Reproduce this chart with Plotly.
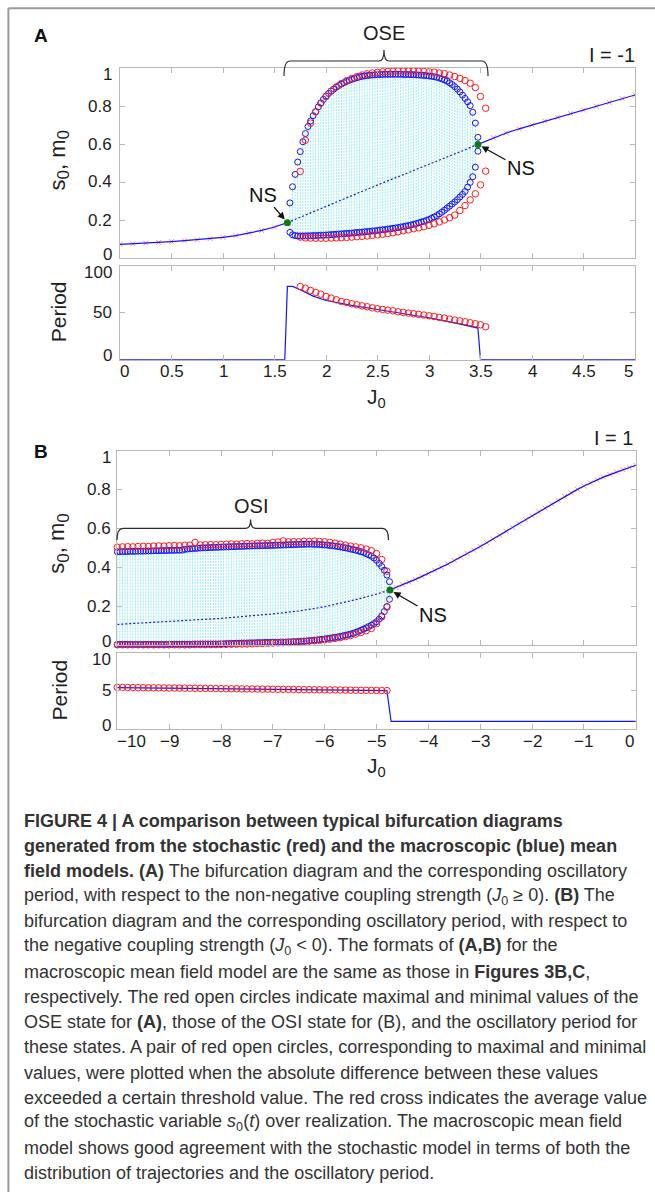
import plotly.graph_objects as go

# ---------------- data ----------------
# Panel A (I = -1): macroscopic model, oscillation envelope (max / min of s0)
A_OSC_J0 = [1.65, 1.675, 1.70, 1.725, 1.75, 1.775, 1.80, 1.825, 1.85, 1.875,
            1.90, 1.925, 1.95, 1.975, 2.00, 2.025, 2.05, 2.075, 2.10, 2.125,
            2.15, 2.175, 2.20, 2.225, 2.25, 2.275, 2.30, 2.325, 2.35, 2.375,
            2.40, 2.425, 2.45, 2.475, 2.50, 2.525, 2.55, 2.575, 2.60, 2.625,
            2.65, 2.675, 2.70, 2.725, 2.75, 2.775, 2.80, 2.825, 2.85, 2.875,
            2.90, 2.925, 2.95, 2.975, 3.00, 3.025, 3.05, 3.075, 3.10, 3.125,
            3.15, 3.175, 3.20, 3.225, 3.25, 3.275, 3.30, 3.325, 3.35, 3.375,
            3.40, 3.425, 3.45, 3.475]
A_BLUE_MAX = [0.290, 0.375, 0.440, 0.505, 0.560, 0.612, 0.655, 0.692, 0.721, 0.749,
              0.770, 0.795, 0.816, 0.835, 0.852, 0.866, 0.879, 0.889, 0.899, 0.908,
              0.916, 0.923, 0.929, 0.935, 0.940, 0.945, 0.949, 0.953, 0.956, 0.958,
              0.960, 0.962, 0.963, 0.964, 0.965, 0.966, 0.966, 0.967, 0.967, 0.967,
              0.967, 0.967, 0.967, 0.967, 0.966, 0.966, 0.966, 0.965, 0.965, 0.964,
              0.963, 0.962, 0.961, 0.960, 0.958, 0.956, 0.954, 0.951, 0.947, 0.943,
              0.937, 0.931, 0.922, 0.913, 0.902, 0.889, 0.874, 0.857, 0.840, 0.822,
              0.802, 0.767, 0.710, 0.635]
A_BLUE_MIN = [0.135, 0.122, 0.118, 0.116, 0.116, 0.116, 0.116, 0.117, 0.117, 0.118,
              0.118, 0.119, 0.120, 0.120, 0.121, 0.122, 0.123, 0.124, 0.125, 0.126,
              0.127, 0.128, 0.129, 0.130, 0.131, 0.133, 0.134, 0.135, 0.136, 0.138,
              0.139, 0.140, 0.142, 0.143, 0.145, 0.147, 0.148, 0.150, 0.152, 0.154,
              0.156, 0.158, 0.160, 0.163, 0.165, 0.168, 0.171, 0.174, 0.177, 0.181,
              0.185, 0.189, 0.193, 0.198, 0.203, 0.209, 0.216, 0.223, 0.232, 0.241,
              0.251, 0.262, 0.273, 0.284, 0.295, 0.307, 0.321, 0.335, 0.350, 0.373,
              0.398, 0.428, 0.478, 0.562]

# Panel A: stochastic model extrema
A_RED_J0 = [1.75, 1.80, 1.85, 1.90, 1.95, 2.00, 2.05, 2.10, 2.15, 2.20,
            2.25, 2.30, 2.35, 2.40, 2.45, 2.50, 2.55, 2.60, 2.65, 2.70,
            2.75, 2.80, 2.85, 2.90, 2.95, 3.00, 3.05, 3.10, 3.15, 3.20,
            3.25, 3.30, 3.35, 3.40, 3.45, 3.50, 3.55]
A_RED_MAX = [0.456, 0.620, 0.710, 0.770, 0.815, 0.850, 0.878, 0.900, 0.918, 0.933,
             0.945, 0.955, 0.963, 0.969, 0.974, 0.977, 0.980, 0.982, 0.983, 0.984,
             0.984, 0.984, 0.984, 0.983, 0.982, 0.980, 0.978, 0.974, 0.970, 0.963,
             0.955, 0.945, 0.934, 0.920, 0.897, 0.850, 0.788]
A_RED_MIN = [0.110, 0.106, 0.105, 0.104, 0.104, 0.104, 0.105, 0.106, 0.107, 0.108,
             0.110, 0.112, 0.114, 0.116, 0.119, 0.122, 0.125, 0.129, 0.133, 0.138,
             0.143, 0.148, 0.154, 0.159, 0.165, 0.172, 0.180, 0.190, 0.200, 0.212,
             0.226, 0.250, 0.276, 0.306, 0.338, 0.385, 0.457]
A_RED_PERIOD = [77.7, 75.9, 73.5, 71.4, 69.6, 67.1, 65.4, 63.6, 61.8, 60.8,
                59.4, 58.3, 57.2, 56.2, 55.1, 54.1, 53.4, 52.6, 51.9, 50.9,
                50.2, 49.5, 48.8, 48.1, 47.4, 46.6, 45.9, 44.9, 44.2, 43.1,
                42.1, 41.3, 40.3, 39.2, 38.2, 37.1, 35.0]

# Panel A: fixed point branches
A_STAB_L_J0 = [0.0, 0.125, 0.25, 0.375, 0.5, 0.625, 0.75, 0.875, 1.0, 1.125, 1.25, 1.375, 1.5, 1.625]
A_STAB_L_S = [0.072, 0.075, 0.078, 0.082, 0.086, 0.091, 0.096, 0.102, 0.109, 0.118, 0.131, 0.145, 0.163, 0.186]
A_STAB_R_J0 = [3.475, 3.625, 3.75, 3.875, 4.0, 4.125, 4.25, 4.375, 4.5, 4.625, 4.75, 4.875, 5.0]
A_STAB_R_S = [0.598, 0.633, 0.658, 0.680, 0.700, 0.720, 0.740, 0.760, 0.779, 0.799, 0.819, 0.839, 0.858]
A_UNST_J0 = [1.625, 1.75, 2.0, 2.25, 2.5, 2.75, 3.0, 3.25, 3.475]
A_UNST_S = [0.186, 0.215, 0.271, 0.328, 0.384, 0.440, 0.494, 0.548, 0.598]
A_NS_J0 = [1.625, 3.475]
A_NS_S = [0.186, 0.598]

# Panel A: macroscopic oscillation period
A_PER_J0 = [0.0, 1.6, 1.625, 1.675, 1.75, 1.875, 2.0, 2.25, 2.5, 2.75, 3.0, 3.25, 3.475, 3.5, 5.0]
A_PER = [0.0, 0.0, 77.8, 77.8, 74.2, 67.5, 62.8, 57.6, 53.3, 49.0, 44.5, 39.0, 33.6, 0.0, 0.0]

# Panel B (I = 1): macroscopic model envelope
B_OSC_J0 = [-10.00, -9.95, -9.90, -9.85, -9.80, -9.75, -9.70, -9.65, -9.60, -9.55,
            -9.50, -9.45, -9.40, -9.35, -9.30, -9.25, -9.20, -9.15, -9.10, -9.05,
            -9.00, -8.95, -8.90, -8.85, -8.80, -8.75, -8.70, -8.65, -8.60, -8.55,
            -8.50, -8.45, -8.40, -8.35, -8.30, -8.25, -8.20, -8.15, -8.10, -8.05,
            -8.00, -7.95, -7.90, -7.85, -7.80, -7.75, -7.70, -7.65, -7.60, -7.55,
            -7.50, -7.45, -7.40, -7.35, -7.30, -7.25, -7.20, -7.15, -7.10, -7.05,
            -7.00, -6.95, -6.90, -6.85, -6.80, -6.75, -6.70, -6.65, -6.60, -6.55,
            -6.50, -6.45, -6.40, -6.35, -6.30, -6.25, -6.20, -6.15, -6.10, -6.05,
            -6.00, -5.95, -5.90, -5.85, -5.80, -5.75, -5.70, -5.65, -5.60, -5.55,
            -5.50, -5.45, -5.40, -5.35, -5.30, -5.25, -5.20, -5.15, -5.10, -5.05,
            -5.00, -4.95, -4.90, -4.85, -4.80, -4.75]
B_BLUE_MAX = [0.480, 0.480, 0.481, 0.481, 0.481, 0.482, 0.482, 0.482, 0.483, 0.483,
              0.483, 0.484, 0.484, 0.484, 0.485, 0.485, 0.485, 0.486, 0.486, 0.486,
              0.487, 0.487, 0.487, 0.488, 0.488, 0.488, 0.492, 0.494, 0.495, 0.496,
              0.497, 0.498, 0.499, 0.500, 0.500, 0.501, 0.502, 0.502, 0.503, 0.503,
              0.504, 0.504, 0.505, 0.505, 0.506, 0.506, 0.507, 0.507, 0.508, 0.508,
              0.509, 0.509, 0.510, 0.510, 0.511, 0.511, 0.511, 0.512, 0.512, 0.512,
              0.513, 0.513, 0.514, 0.514, 0.515, 0.515, 0.516, 0.516, 0.517, 0.517,
              0.518, 0.518, 0.518, 0.519, 0.519, 0.519, 0.518, 0.518, 0.517, 0.516,
              0.515, 0.514, 0.512, 0.511, 0.509, 0.507, 0.505, 0.502, 0.500, 0.497,
              0.494, 0.491, 0.488, 0.484, 0.480, 0.476, 0.470, 0.464, 0.457, 0.448,
              0.436, 0.420, 0.404, 0.385, 0.360, 0.326]
B_BLUE_MIN = [0.003, 0.003, 0.003, 0.003, 0.003, 0.003, 0.003, 0.003, 0.003, 0.003,
              0.003, 0.003, 0.003, 0.003, 0.003, 0.003, 0.003, 0.003, 0.003, 0.003,
              0.004, 0.004, 0.004, 0.004, 0.004, 0.004, 0.004, 0.004, 0.004, 0.004,
              0.005, 0.005, 0.005, 0.005, 0.005, 0.005, 0.005, 0.005, 0.005, 0.005,
              0.006, 0.006, 0.007, 0.007, 0.008, 0.008, 0.009, 0.009, 0.010, 0.010,
              0.010, 0.011, 0.011, 0.011, 0.012, 0.012, 0.012, 0.013, 0.013, 0.013,
              0.014, 0.014, 0.014, 0.015, 0.015, 0.015, 0.016, 0.016, 0.017, 0.017,
              0.018, 0.019, 0.020, 0.021, 0.022, 0.023, 0.025, 0.026, 0.028, 0.029,
              0.031, 0.033, 0.035, 0.037, 0.039, 0.041, 0.044, 0.047, 0.050, 0.053,
              0.056, 0.060, 0.065, 0.070, 0.076, 0.082, 0.088, 0.095, 0.102, 0.110,
              0.120, 0.133, 0.150, 0.172, 0.198, 0.235]

# Panel B: stochastic model extrema and period
B_RED_J0 = [-10.0, -9.9, -9.8, -9.7, -9.6, -9.5, -9.4, -9.3, -9.2, -9.1,
            -9.0, -8.9, -8.8, -8.7, -8.6, -8.5, -8.4, -8.3, -8.2, -8.1,
            -8.0, -7.9, -7.8, -7.7, -7.6, -7.5, -7.4, -7.3, -7.2, -7.1,
            -7.0, -6.9, -6.8, -6.7, -6.6, -6.5, -6.4, -6.3, -6.2, -6.1,
            -6.0, -5.9, -5.8, -5.7, -5.6, -5.5, -5.4, -5.3, -5.2, -5.1,
            -5.0, -4.9, -4.8]
B_RED_MAX = [0.503, 0.505, 0.506, 0.505, 0.507, 0.508, 0.507, 0.509, 0.510, 0.509,
             0.511, 0.512, 0.511, 0.513, 0.514, 0.528, 0.515, 0.516, 0.517, 0.516,
             0.518, 0.519, 0.520, 0.519, 0.521, 0.522, 0.521, 0.523, 0.524, 0.523,
             0.528, 0.530, 0.536, 0.531, 0.532, 0.531, 0.534, 0.533, 0.535, 0.533,
             0.531, 0.528, 0.524, 0.519, 0.514, 0.509, 0.505, 0.500, 0.494, 0.485,
             0.471, 0.440, 0.380]
B_RED_MIN = [0.001, 0.001, 0.001, 0.001, 0.001, 0.001, 0.001, 0.001, 0.001, 0.001,
             0.001, 0.001, 0.001, 0.001, 0.001, 0.002, 0.002, 0.002, 0.002, 0.002,
             0.003, 0.003, 0.004, 0.004, 0.005, 0.005, 0.006, 0.007, 0.008, 0.009,
             0.010, 0.011, 0.012, 0.013, 0.014, 0.016, 0.018, 0.020, 0.022, 0.024,
             0.027, 0.030, 0.034, 0.038, 0.043, 0.049, 0.056, 0.064, 0.073, 0.085,
             0.110, 0.145, 0.195]
B_RED_PERIOD = [5.45, 5.44, 5.44, 5.43, 5.42, 5.41, 5.41, 5.40, 5.39, 5.38,
                5.37, 5.37, 5.36, 5.35, 5.34, 5.33, 5.33, 5.32, 5.31, 5.30,
                5.29, 5.28, 5.28, 5.27, 5.26, 5.25, 5.24, 5.24, 5.23, 5.22,
                5.21, 5.20, 5.20, 5.19, 5.18, 5.17, 5.16, 5.16, 5.15, 5.14,
                5.13, 5.12, 5.12, 5.11, 5.10, 5.09, 5.08, 5.07, 5.07, 5.06,
                5.05, 5.04, 5.03]

# Panel B: fixed point branches
B_STAB_J0 = [-4.75, -4.625, -4.5, -4.375, -4.25, -4.125, -4.0, -3.875, -3.75, -3.625,
             -3.5, -3.375, -3.25, -3.125, -3.0, -2.875, -2.75, -2.625, -2.5, -2.375,
             -2.25, -2.125, -2.0, -1.875, -1.75, -1.625, -1.5, -1.375, -1.25, -1.125,
             -1.0, -0.875, -0.75, -0.625, -0.5, -0.375, -0.25, -0.125, 0.0]
B_STAB_S = [0.283, 0.296, 0.310, 0.324, 0.338, 0.353, 0.368, 0.384, 0.400, 0.417,
            0.435, 0.452, 0.470, 0.488, 0.507, 0.526, 0.545, 0.565, 0.585, 0.605,
            0.625, 0.645, 0.665, 0.685, 0.705, 0.725, 0.745, 0.764, 0.783, 0.801,
            0.818, 0.834, 0.850, 0.864, 0.877, 0.890, 0.903, 0.914, 0.925]
B_UNST_J0 = [-10.0, -9.0, -8.0, -7.0, -6.5, -6.0, -5.5, -5.0, -4.75]
B_UNST_S = [0.106, 0.120, 0.137, 0.160, 0.175, 0.197, 0.227, 0.262, 0.283]
B_NS_J0 = [-4.74]
B_NS_S = [0.283]

B_PER_J0 = [-10.0, -9.0, -8.0, -7.0, -6.0, -5.0, -4.8, -4.72, 0.0]
B_PER = [5.42, 5.35, 5.27, 5.19, 5.11, 5.04, 5.02, 1.0, 1.0]

# tick labels
A_X_TICKS = [0, 0.5, 1, 1.5, 2, 2.5, 3, 3.5, 4, 4.5, 5]
A_X_LABELS = ["0", "0.5", "1", "1.5", "2", "2.5", "3", "3.5", "4", "4.5", "5"]
B_X_TICKS = [-10, -9, -8, -7, -6, -5, -4, -3, -2, -1, 0]
B_X_LABELS = ["\u221210", "\u22129", "\u22128", "\u22127", "\u22126", "\u22125",
              "\u22124", "\u22123", "\u22122", "\u22121", "0"]
S_TICKS = [0, 0.2, 0.4, 0.6, 0.8, 1]
S_LABELS = ["0", "0.2", "0.4", "0.6", "0.8", "1"]
A_P_TICKS = [0, 50, 100]
A_P_LABELS = ["0", "50", "100"]
B_P_TICKS = [0, 5, 10]
B_P_LABELS = ["0", "5", "10"]

CAPTION = [
    "<b>FIGURE 4 | A comparison between typical bifurcation diagrams</b>",
    "<b>generated from the stochastic (red) and the macroscopic (blue) mean</b>",
    "<b>field models. (A)</b> The bifurcation diagram and the corresponding oscillatory",
    "period, with respect to the non-negative coupling strength (<i>J</i><sub>0</sub> \u2265 0). <b>(B)</b> The",
    "bifurcation diagram and the corresponding oscillatory period, with respect to",
    "the negative coupling strength (<i>J</i><sub>0</sub> &lt; 0). The formats of <b>(A,B)</b> for the",
    "macroscopic mean field model are the same as those in <b>Figures 3B,C</b>,",
    "respectively. The red open circles indicate maximal and minimal values of the",
    "OSE state for <b>(A)</b>, those of the OSI state for (B), and the oscillatory period for",
    "these states. A pair of red open circles, corresponding to maximal and minimal",
    "values, were plotted when the absolute difference between these values",
    "exceeded a certain threshold value. The red cross indicates the average value",
    "of the stochastic variable <i>s</i><sub>0</sub>(<i>t</i>) over realization. The macroscopic mean field",
    "model shows good agreement with the stochastic model in terms of both the",
    "distribution of trajectories and the oscillatory period.",
]

# ---------------- layout helpers ----------------
W, H = 655, 1192
FONT = "Liberation Sans, Arial, sans-serif"
BLUE = "#1414ff"
RED = "#ff1a1a"
CYAN = "rgba(40,215,225,0.5)"
GREEN = "#0a7d12"
AXC = "#b8b8b8"


def px(x):
    return x / W


def py(y):
    return 1 - y / H


# subplot boxes in pixels: left, right, top, bottom
BOXES = {
    "": (120.0, 635.0, 68.0, 258.0),
    "2": (120.0, 635.0, 265.5, 359.7),
    "3": (117.3, 635.8, 450.7, 645.0),
    "4": (117.3, 635.8, 652.7, 729.0),
}
RANGES = {
    "": ([0, 5], [0, 1]),
    "2": ([0, 5], [0, 100]),
    "3": ([-10, 0], [0, 1]),
    "4": ([-10, 0], [0, 10]),
}
XTICKS = {"": A_X_TICKS, "2": A_X_TICKS, "3": B_X_TICKS, "4": B_X_TICKS}
YTICKS = {"": S_TICKS, "2": A_P_TICKS, "3": S_TICKS, "4": B_P_TICKS}

fig = go.Figure()
annotations = []
shapes = []

layout_axes = {}
for k, (l, r, t, b) in BOXES.items():
    xr, yr = RANGES[k]
    common = dict(showgrid=False, zeroline=False, showline=True, linecolor=AXC,
                  linewidth=1, mirror="ticks", ticks="inside", ticklen=5,
                  tickcolor=AXC, tickwidth=1, showticklabels=False, fixedrange=True)
    layout_axes["xaxis" + k] = dict(common, domain=[px(l), px(r)], range=xr,
                                    tickvals=XTICKS[k], anchor="y" + k)
    layout_axes["yaxis" + k] = dict(common, domain=[py(b), py(t)], range=yr,
                                    tickvals=YTICKS[k], anchor="x" + k)


def text(x, y, s, size=17, xanchor="center", yanchor="middle", angle=0,
         color="#1e1e1e"):
    annotations.append(dict(x=px(x), y=py(y), xref="paper", yref="paper", text=s,
                            showarrow=False, xanchor=xanchor, yanchor=yanchor,
                            textangle=angle, font=dict(family=FONT, size=size, color=color)))


def x_tick_labels(k, vals, labels, y):
    l, r, _, _ = BOXES[k]
    x0, x1 = RANGES[k][0]
    for i, (v, s) in enumerate(zip(vals, labels)):
        xp = l + (v - x0) / (x1 - x0) * (r - l)
        if i == 0:
            text(l - 2, y, s, xanchor="left")
        elif i == len(vals) - 1:
            text(r, y, s, xanchor="right")
        else:
            text(xp, y, s)


def y_tick_labels(k, vals, labels, xr):
    _, _, t, b = BOXES[k]
    y0, y1 = RANGES[k][1]
    for i, (v, s) in enumerate(zip(vals, labels)):
        yp = b - (v - y0) / (y1 - y0) * (b - t)
        if i == 0:
            yp = b - 4
        elif i == len(vals) - 1:
            yp = t + 7
        text(xr, yp, s, xanchor="right")


def segs(xs, lo, hi):
    xx, yy = [], []
    for x, a, c in zip(xs, lo, hi):
        xx += [x, x, None]
        yy += [a, c, None]
    return xx, yy


def open_circles(color, size):
    return dict(symbol="circle-open", size=size, color=color, line=dict(color=color, width=1))


def add_bifurcation(k, osc_j, bmax, bmin, red_j, rmax, rmin, stab, unst, ns):
    ax = dict(xaxis="x" + k, yaxis="y" + k, showlegend=False, hoverinfo="skip")
    cx, cy = segs(osc_j, bmin, bmax)
    fig.add_trace(go.Scatter(x=cx, y=cy, mode="lines",
                             line=dict(color=CYAN, width=1, dash="2px,1px"), **ax))
    fig.add_trace(go.Scatter(x=unst[0], y=unst[1], mode="lines",
                             line=dict(color=BLUE, width=1.2, dash="2px,2px"), **ax))
    fig.add_trace(go.Scatter(x=osc_j + osc_j, y=bmax + bmin, mode="markers",
                             cliponaxis=False, marker=open_circles(BLUE, 6), **ax))
    fig.add_trace(go.Scatter(x=red_j + red_j, y=rmax + rmin, mode="markers",
                             cliponaxis=False, marker=open_circles(RED, 6.5), **ax))
    for sj, ss in stab:
        fig.add_trace(go.Scatter(x=sj, y=ss, mode="markers",
                                 marker=dict(symbol="x-thin", size=5,
                                             color="rgba(255,70,70,0.6)",
                                             line=dict(color="rgba(255,70,70,0.6)", width=1)),
                                 **ax))
        fig.add_trace(go.Scatter(x=sj, y=ss, mode="lines",
                                 line=dict(color=BLUE, width=1.2), **ax))
    fig.add_trace(go.Scatter(x=ns[0], y=ns[1], mode="markers",
                             marker=dict(symbol="circle", size=7, color=GREEN), **ax))


def add_period(k, j, p, red_j, red_p):
    ax = dict(xaxis="x" + k, yaxis="y" + k, showlegend=False, hoverinfo="skip")
    fig.add_trace(go.Scatter(x=j, y=p, mode="lines",
                             line=dict(color=BLUE, width=1.2), **ax))
    fig.add_trace(go.Scatter(x=red_j, y=red_p, mode="markers", cliponaxis=False,
                             marker=open_circles(RED, 6.5), **ax))


# ---------------- panel A ----------------
add_bifurcation("", A_OSC_J0, A_BLUE_MAX, A_BLUE_MIN, A_RED_J0, A_RED_MAX, A_RED_MIN,
                [(A_STAB_L_J0, A_STAB_L_S), (A_STAB_R_J0, A_STAB_R_S)],
                (A_UNST_J0, A_UNST_S), (A_NS_J0, A_NS_S))
add_period("2", A_PER_J0, A_PER, A_RED_J0, A_RED_PERIOD)

# ---------------- panel B ----------------
add_bifurcation("3", B_OSC_J0, B_BLUE_MAX, B_BLUE_MIN, B_RED_J0, B_RED_MAX, B_RED_MIN,
                [(B_STAB_J0, B_STAB_S)], (B_UNST_J0, B_UNST_S), (B_NS_J0, B_NS_S))
add_period("4", B_PER_J0, B_PER, B_RED_J0, B_RED_PERIOD)

# tick labels
x_tick_labels("2", A_X_TICKS, A_X_LABELS, 371.7)
x_tick_labels("4", B_X_TICKS, B_X_LABELS, 741.7)
y_tick_labels("", S_TICKS, S_LABELS, 113.6)
y_tick_labels("2", A_P_TICKS, A_P_LABELS, 113.6)
y_tick_labels("3", S_TICKS, S_LABELS, 112.5)
y_tick_labels("4", B_P_TICKS, B_P_LABELS, 112.5)

# axis titles
SM_TITLE = ("s<sub><span style='font-size:17px'>0</span></sub>, "
            "m<sub><span style='font-size:17px'>0</span></sub>")
text(58.5, 160, SM_TITLE, size=22, angle=-90)
text(58.5, 311.7, "Period", size=21, angle=-90)
text(58.5, 543.3, SM_TITLE, size=22, angle=-90)
text(58.5, 690, "Period", size=21, angle=-90)
text(376, 398.3, "J<sub>0</sub>", size=21)
text(376, 766.7, "J<sub>0</sub>", size=21)

# panel letters, input labels, state labels
text(40.5, 35, "<b>A</b>", size=19, color="#111")
text(40.5, 451, "<b>B</b>", size=19, color="#111")
text(637, 55, "I = -1", size=20, xanchor="right")
text(635, 438.3, "I = 1", size=20, xanchor="right")
text(384, 33, "OSE", size=20)
text(250.6, 505.7, "OSI", size=20)

# NS arrows
for (xa, ya, j, s, dx, dy) in [("x", "y", A_NS_J0[0], A_NS_S[0], -24, -28),
                               ("x", "y", A_NS_J0[1], A_NS_S[1], 43, 24),
                               ("x3", "y3", B_NS_J0[0], B_NS_S[0], 43, 25)]:
    annotations.append(dict(x=j, y=s, xref=xa, yref=ya, ax=dx, ay=dy, text="NS",
                            showarrow=True, arrowhead=2, arrowsize=1.1, arrowwidth=1.3,
                            arrowcolor="#111", standoff=4,
                            font=dict(family=FONT, size=20, color="#111")))


def brace(x1, x2, xm, yb, yl, yt, r=6, r2=5):
    pts = [("M", x1, yb), ("Q", x1, yl), ("", x1 + r, yl), ("L", xm - r2, yl),
           ("Q", xm, yl), ("", xm, yt), ("Q", xm, yl), ("", xm + r2, yl),
           ("L", x2 - r, yl), ("Q", x2, yl), ("", x2, yb)]
    return " ".join(f"{c} {px(x):.5f},{py(y):.5f}".strip() for c, x, y in pts)


for (x1, x2, xm, yb, yl, yt) in [(284, 488, 384, 76, 61, 50),
                                  (117, 388.5, 250.6, 540, 528.3, 519.5)]:
    shapes.append(dict(type="path", xref="paper", yref="paper",
                       path=brace(x1, x2, xm, yb, yl, yt),
                       line=dict(color="#2a2a2a", width=1.2)))

# outer frame
shapes.append(dict(type="line", xref="paper", yref="paper", x0=px(8.4), x1=px(8.4),
                   y0=py(8.3), y1=py(1192), line=dict(color="#9a9a9a", width=2)))
shapes.append(dict(type="line", xref="paper", yref="paper", x0=px(8.4), x1=px(655),
                   y0=py(8.3), y1=py(8.3), line=dict(color="#9a9a9a", width=2)))

# caption
for i, line in enumerate(CAPTION):
    text(21.7, 820.7 + i * 25.19, line, size=18, xanchor="left", color="#333")

fig.update_layout(width=W, height=H, autosize=False,
                  margin=dict(l=0, r=0, t=0, b=0),
                  paper_bgcolor="white", plot_bgcolor="white",
                  showlegend=False, annotations=annotations, shapes=shapes,
                  **layout_axes)

fig.write_html("out.html")
